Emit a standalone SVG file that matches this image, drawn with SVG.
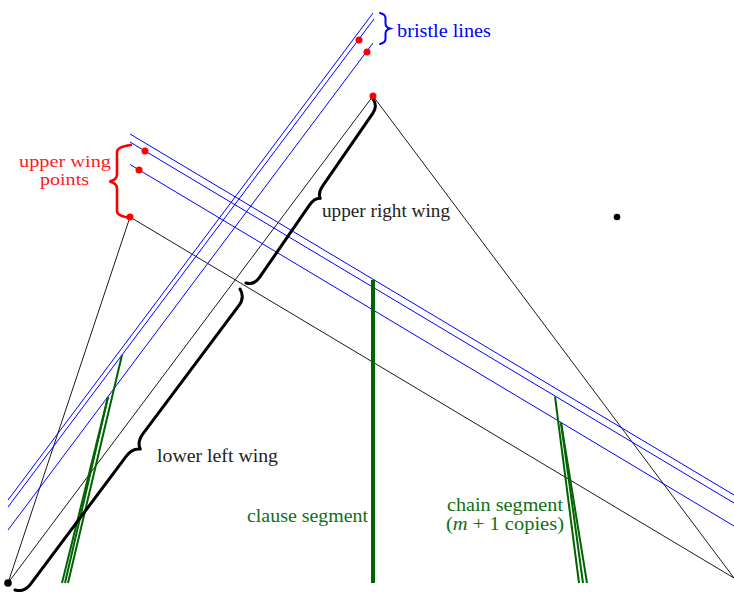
<svg xmlns="http://www.w3.org/2000/svg" width="734" height="592" viewBox="0 0 734 592">
<style>
.thin{stroke:#000;stroke-width:0.9;fill:none}
.blue{stroke:#0000ff;stroke-width:1;fill:none}
.chain{stroke:#006400;stroke-width:2;fill:none}
.clause{stroke:#006400;stroke-width:4;fill:none}
.brace{stroke:#000;stroke-width:3;fill:none;stroke-linecap:round;stroke-linejoin:round}
.rbrace{stroke:#ff0000;stroke-width:2.6;fill:none;stroke-linecap:round}
.bbrace{stroke:#0000ff;stroke-width:2;fill:none;stroke-linecap:round}
.rdot{fill:#ff0000}
.kdot{fill:#000}
text{font-family:"Liberation Serif","Times New Roman",serif;font-size:18px}
.tk{fill:#222}
.tr{fill:#ff1a1a;font-size:17px}
.tb{fill:#0000ff}
.tg{fill:#107010}
</style>
<rect width="734" height="592" fill="#fff"/>
<g id="connectors">
  <line class="thin" x1="8" y1="583" x2="373" y2="96"/>
  <line class="thin" x1="373" y1="96" x2="734" y2="578"/>
  <line class="thin" x1="8" y1="583" x2="130" y2="217"/>
  <line class="thin" x1="130" y1="217" x2="734" y2="578"/>
</g>
<g id="bristle-lines">
  <line class="blue" x1="8" y1="500" x2="373" y2="13"/>
  <line class="blue" x1="8" y1="507" x2="374" y2="19"/>
  <line class="blue" x1="8" y1="530" x2="373" y2="43"/>
  <line class="blue" x1="130" y1="134" x2="734" y2="495"/>
  <line class="blue" x1="130" y1="142" x2="734" y2="503"/>
  <line class="blue" x1="130" y1="164.5" x2="734" y2="526"/>
</g>
<g id="clause-segment">
  <line class="clause" x1="373" y1="280" x2="373" y2="583"/>
  <text class="tg" x="247" y="522" textLength="121" lengthAdjust="spacingAndGlyphs">clause segment</text>
</g>
<g id="chain-segment">
  <line class="chain" x1="555" y1="396.5" x2="579" y2="583"/>
  <line class="chain" x1="561" y1="422.5" x2="583" y2="583"/>
  <line class="chain" x1="561" y1="422.5" x2="587" y2="583"/>
  <line class="chain" x1="122" y1="355" x2="68" y2="583"/>
  <line class="chain" x1="108" y1="397" x2="65" y2="583"/>
  <line class="chain" x1="108" y1="397" x2="62" y2="583"/>
  <text class="tg" x="447" y="511" textLength="116" lengthAdjust="spacingAndGlyphs">chain segment</text>
  <text class="tg" x="446" y="530" textLength="118" lengthAdjust="spacingAndGlyphs">(<tspan font-style="italic">m</tspan> + 1 copies)</text>
</g>
<g id="upper-right-wing">
  <path class="brace" transform="translate(373,99) rotate(124.62) scale(1,-1)" d="M0,0 C1.8,4.8 6,8 12,8 L99.8,8 C105.8,8 110,10 111.8,13 C113.6,10 117.8,8 123.8,8 L211.6,8 C217.6,8 221.8,4.8 223.6,0"/>
  <text class="tk" x="322" y="217" textLength="128" lengthAdjust="spacingAndGlyphs">upper right wing</text>
</g>
<g id="lower-left-wing">
  <path class="brace" transform="translate(240,289) rotate(126.78) scale(1,-1)" d="M0,0 C2.1,5.4 7,9 14,9 L173.9,9 C180.9,9 185.8,11.8 187.9,16 C190,11.8 194.9,9 201.9,9 L361.8,9 C368.8,9 373.7,5.4 375.8,0"/>
  <text class="tk" x="157" y="462" textLength="121" lengthAdjust="spacingAndGlyphs">lower left wing</text>
</g>
<g id="bristle-label">
  <path class="bbrace" transform="translate(380,13) rotate(90) scale(1,-1)" d="M0,0 C0.75,3.3 2.5,5.5 5,5.5 L10.5,5.5 C13,5.5 14.75,7.3 15.5,10 C16.25,7.3 18,5.5 20.5,5.5 L26,5.5 C28.5,5.5 30.25,3.3 31,0"/>
  <text class="tb" x="397" y="37" textLength="94" lengthAdjust="spacingAndGlyphs">bristle lines</text>
</g>
<g id="upper-wing-label">
  <path class="rbrace" transform="translate(131,145) rotate(90)" d="M0,0 C1.05,8.4 3.5,14 7,14 L29.5,14 C33,14 35.45,17 36.5,21.5 C37.55,17 40,14 43.5,14 L66,14 C69.5,14 71.95,8.4 73,0"/>
  <text class="tr" x="19" y="166.5" textLength="92" lengthAdjust="spacingAndGlyphs">upper wing</text>
  <text class="tr" x="40" y="185" textLength="49" lengthAdjust="spacingAndGlyphs">points</text>
</g>
<g id="points">
  <circle class="rdot" cx="373" cy="96" r="3.5"/>
  <circle class="rdot" cx="359" cy="40" r="3.5"/>
  <circle class="rdot" cx="367" cy="52" r="3.5"/>
  <circle class="rdot" cx="145" cy="151" r="3.5"/>
  <circle class="rdot" cx="139" cy="170" r="3.5"/>
  <circle class="rdot" cx="130" cy="217" r="3.5"/>
  <circle class="kdot" cx="8" cy="583" r="3.8"/>
  <circle class="kdot" cx="617" cy="217" r="3.3"/>
</g>
</svg>
